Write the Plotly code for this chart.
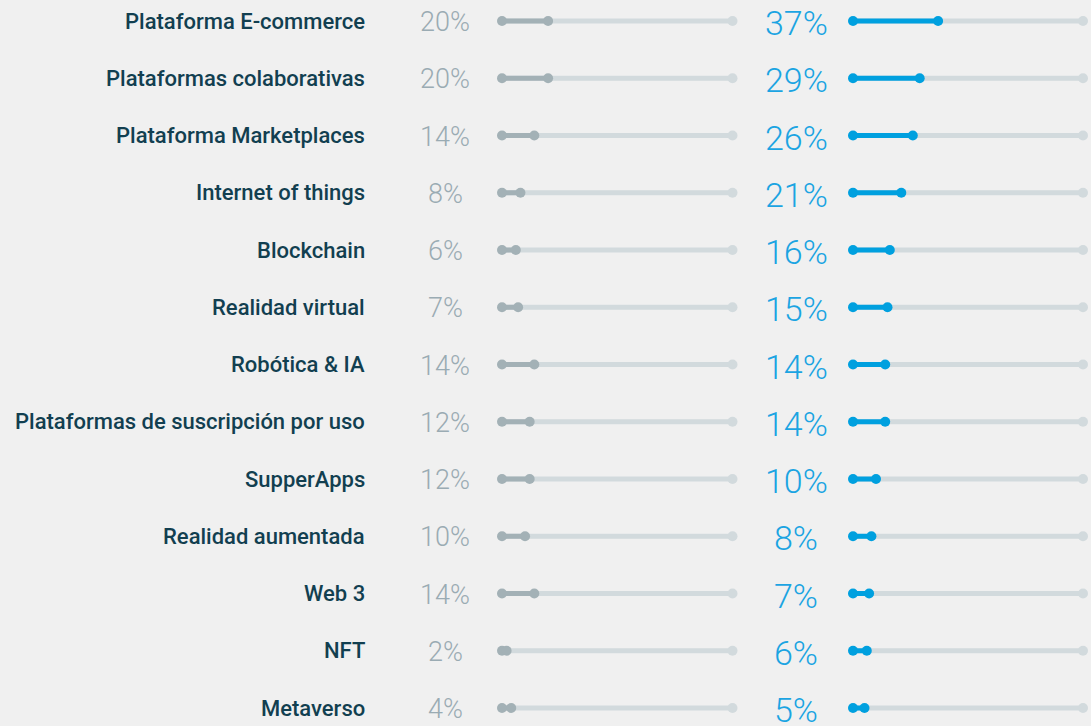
import plotly.graph_objects as go

categories = [
    "Plataforma E-commerce", "Plataformas colaborativas", "Plataforma Marketplaces",
    "Internet of things", "Blockchain", "Realidad virtual", "Robótica & IA",
    "Plataformas de suscripción por uso", "SupperApps", "Realidad aumentada",
    "Web 3", "NFT", "Metaverso",
]
before_vals = [20, 20, 14, 8, 6, 7, 14, 12, 12, 10, 14, 2, 4]
now_vals = [37, 29, 26, 21, 16, 15, 14, 14, 10, 8, 7, 6, 5]

W, H = 1091, 726
BG = "#f0f0f0"
TRACK = "#d2dadd"
GRAY = "#a3b1b6"
BLUE = "#00a0df"
LABEL = "#123f50"
GRAYTXT = "#9aabb3"
BLUETXT = "#1ba4e2"

n = len(categories)
idx = list(range(n))

fig = go.Figure()

def add_set(vals, color, xa, ya):
    tx, ty, vx, vy = [], [], [], []
    for i, v in zip(idx, vals):
        tx += [0, 100, None]; ty += [i, i, None]
        vx += [0, v, None]; vy += [i, i, None]
    fig.add_trace(go.Scatter(x=tx, y=ty, mode="lines", line=dict(color=TRACK, width=5),
                             xaxis=xa, yaxis=ya, hoverinfo="skip", showlegend=False,
                             cliponaxis=False))
    fig.add_trace(go.Scatter(x=[100] * n, y=idx, mode="markers",
                             marker=dict(color=TRACK, size=10, line=dict(width=0)),
                             xaxis=xa, yaxis=ya, hoverinfo="skip", showlegend=False,
                             cliponaxis=False))
    fig.add_trace(go.Scatter(x=vx, y=vy, mode="lines", line=dict(color=color, width=5),
                             xaxis=xa, yaxis=ya, hoverinfo="skip", showlegend=False,
                             cliponaxis=False))
    fig.add_trace(go.Scatter(x=[0] * n + vals, y=idx + idx, mode="markers",
                             marker=dict(color=color, size=10, line=dict(width=0)),
                             xaxis=xa, yaxis=ya, showlegend=False, cliponaxis=False))

add_set(before_vals, GRAY, "x", "y")
add_set(now_vals, BLUE, "x2", "y")

ann = []
for i, c, b, a in zip(idx, categories, before_vals, now_vals):
    ann.append(dict(x=367 / W, y=i, xref="paper", yref="y", text=c, showarrow=False,
                    xanchor="right", yanchor="middle", yshift=0,
                    font=dict(family="Roboto", size=22, color=LABEL, weight=500)))
    ann.append(dict(x=445 / W, y=i, xref="paper", yref="y", text=f"{b}%", showarrow=False,
                    xanchor="center", yanchor="middle", yshift=-1,
                    font=dict(family="Roboto", size=27, color=GRAYTXT, weight=300)))
    ann.append(dict(x=796 / W, y=i, xref="paper", yref="y", text=f"{a}%", showarrow=False,
                    xanchor="center", yanchor="middle", yshift=-2,
                    font=dict(family="Roboto", size=34, color=BLUETXT, weight=300)))

ax = dict(range=[0, 100], showgrid=False, zeroline=False, showticklabels=False,
          showline=False, fixedrange=True)
fig.update_layout(
    width=W, height=H,
    margin=dict(l=0, r=0, t=0, b=0),
    paper_bgcolor=BG, plot_bgcolor=BG,
    xaxis=dict(domain=[502 / W, 732.5 / W], **ax),
    xaxis2=dict(domain=[853 / W, 1083 / W], **ax),
    yaxis=dict(range=[12.314, -0.367], showgrid=False, zeroline=False,
               showticklabels=False, showline=False, fixedrange=True),
    annotations=ann,
    showlegend=False,
)

fig.write_html(
    "out.html",
    config={"displayModeBar": False},
    post_script="document.body.style.margin='0';document.body.style.background='#f0f0f0';"
                "document.body.style.overflow='hidden';",
)
